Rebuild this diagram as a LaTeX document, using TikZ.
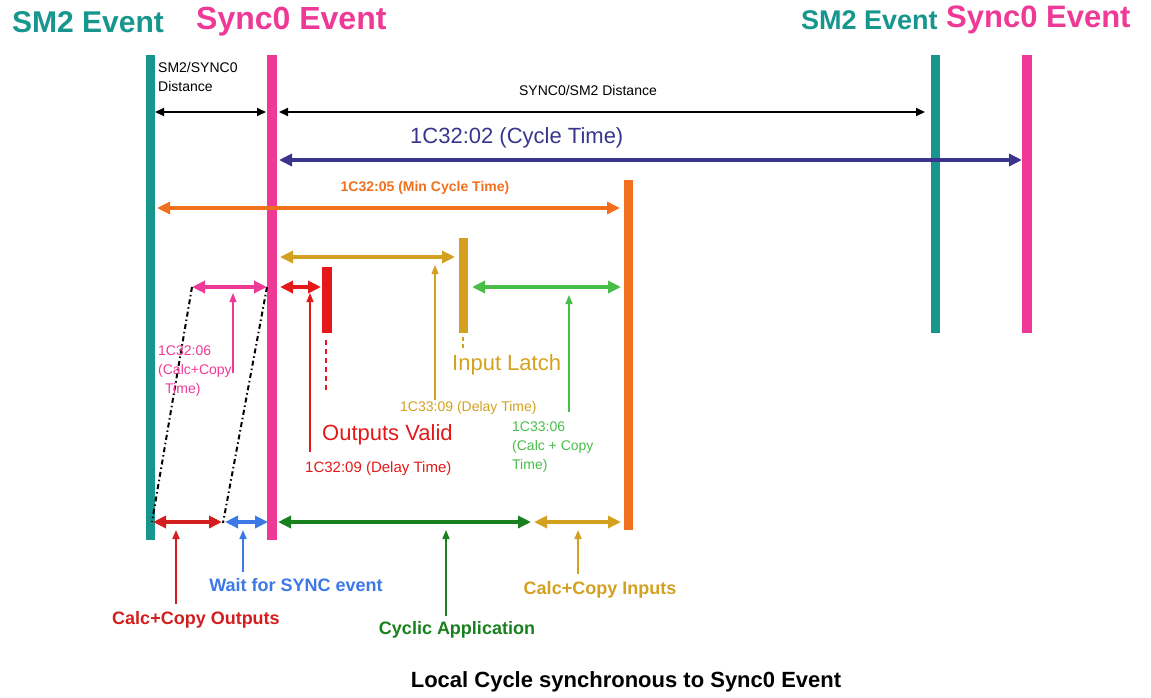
\documentclass[tikz,border=0pt]{standalone}
\usepackage{fontspec}
\setmainfont{Liberation Sans}
\usetikzlibrary{arrows.meta}
\definecolor{smteal}{RGB}{22,150,140}
\definecolor{syncpink}{RGB}{238,58,150}
\definecolor{cyclenavy}{RGB}{58,52,140}
\definecolor{minorange}{RGB}{240,112,30}
\definecolor{latchgold}{RGB}{212,160,32}
\definecolor{outred}{RGB}{228,24,24}
\definecolor{copyred}{RGB}{210,30,30}
\definecolor{copygreen}{RGB}{72,190,72}
\definecolor{appgreen}{RGB}{24,128,28}
\definecolor{waitblue}{RGB}{60,120,230}

\begin{document}
\begin{tikzpicture}[x=1pt, y=-1pt,
  ev/.style={font=\bfseries\fontsize{#1}{#1}\selectfont, inner sep=0pt, anchor=west},
  tiny/.style={font=\fontsize{14}{19}\selectfont, inner sep=0pt},
  mid/.style={font=\fontsize{22}{26}\selectfont, inner sep=0pt},
  bot/.style={font=\bfseries\fontsize{18}{22}\selectfont, inner sep=0pt},
  span/.style={{Triangle[length=13pt,width=12pt]}-{Triangle[length=13pt,width=12pt]}, line width=3.5pt},
  thinspan/.style={{Triangle[length=9pt,width=8pt]}-{Triangle[length=9pt,width=8pt]}, line width=1.8pt},
  pointer/.style={-{Triangle[length=9pt,width=7pt]}, line width=1.3pt},
  dashdot/.style={line width=2pt, dash pattern=on 5pt off 3pt on 1.5pt off 3pt}]
  \useasboundingbox (0,0) rectangle (1151,697);
  % event titles
  \node[ev=30, text=smteal] (smL) at (12,22) {SM2 Event};
  \node[ev=32, text=syncpink] (syncL) at (196,22) {Sync0 Event};
  \node[ev=27, text=smteal] (smR) at (801,20) {SM2 Event};
  \node[ev=31, text=syncpink] (syncR) at (946,20) {Sync0 Event};
  % event bars
  \draw[smteal, line width=9pt] (150,55) -- (150,540);
  \draw[syncpink, line width=10pt] (272,55) -- (272,540);
  \draw[smteal, line width=9pt] (935,55) -- (935,333);
  \draw[syncpink, line width=10pt] (1027,55) -- (1027,333);
  \draw[minorange, line width=9pt] (628,180) -- (628,530);
  \draw[latchgold, line width=9pt] (463,238) -- (463,333);
  \draw[outred, line width=10pt] (327,267) -- (327,333);
  % ends of the spans
  \coordinate (dA) at (155,112);  \coordinate (dB) at (266,112);
  \coordinate (dC) at (279,112);  \coordinate (dD) at (925,112);
  \coordinate (cA) at (279,160);  \coordinate (cB) at (1022,160);
  \coordinate (mA) at (157,208);  \coordinate (mB) at (620,208);
  \coordinate (gA) at (280,257);  \coordinate (gB) at (455,257);
  \coordinate (pA) at (192,287);  \coordinate (pB) at (267,287);
  \coordinate (rA) at (280,287);  \coordinate (rB) at (321,287);
  \coordinate (lA) at (472,287);  \coordinate (lB) at (621,287);
  \coordinate (b1) at (153,522);  \coordinate (b2) at (222,522);
  \coordinate (b3) at (225,522);  \coordinate (b4) at (268,522);
  \coordinate (b5) at (278,522);  \coordinate (b6) at (531,522);
  \coordinate (b7) at (534,522);  \coordinate (b8) at (621,522);
  % spans
  \draw[thinspan] (dA) -- (dB);
  \draw[thinspan] (dC) -- (dD);
  \draw[span, cyclenavy, line width=4pt] (cA) -- (cB);
  \draw[span, minorange, line width=4pt] (mA) -- (mB);
  \draw[span, latchgold] (gA) -- (gB);
  \draw[span, syncpink] (pA) -- (pB);
  \draw[span, outred] (rA) -- (rB);
  \draw[span, copygreen] (lA) -- (lB);
  \draw[span, copyred] (b1) -- (b2);
  \draw[span, waitblue] (b3) -- (b4);
  \draw[span, appgreen] (b5) -- (b6);
  \draw[span, latchgold] (b7) -- (b8);
  % shift of the calc+copy window
  \coordinate (sA) at (152,522);  \coordinate (sB) at (223,523);
  \draw[dashdot] (pA) -- (sA);
  \draw[dashdot] (pB) -- (sB);
  \draw[outred, line width=1.5pt, dash pattern=on 5pt off 4pt] (326,340) -- (326,393);
  \draw[latchgold, line width=2pt, dash pattern=on 4pt off 3pt] (463,337) -- (463,350);
  % labels
  \node[tiny, align=left, anchor=north west] (distL) at (158,62) {SM2/SYNC0\\Distance};
  \node[tiny] (distR) at (588,90) {SYNC0/SM2 Distance};
  \node[mid, text=cyclenavy, anchor=west] (cycle) at (410,138) {1C32:02 (Cycle Time)};
  \node[tiny, text=minorange, font=\bfseries\fontsize{14}{19}\selectfont] (mincycle) at (425,188) {1C32:05 (Min Cycle Time)};
  \node[tiny, text=syncpink, align=left, anchor=north west] (calcOut) at (158,346) {1C32:06\\(Calc+Copy\\\hspace{7pt}Time)};
  \node[mid, text=outred, anchor=west] (valid) at (322,435) {Outputs Valid};
  \node[tiny, text=outred, font=\fontsize{15}{19}\selectfont, anchor=west] (delayOut) at (305,469) {1C32:09 (Delay Time)};
  \node[mid, text=latchgold, anchor=west] (latch) at (452,365) {Input Latch};
  \node[tiny, text=latchgold, anchor=west] (delayIn) at (400,408) {1C33:09 (Delay Time)};
  \node[tiny, text=copygreen, align=left, anchor=north west] (calcIn) at (512,422) {1C33:06\\(Calc + Copy\\Time)};
  \node[bot, text=copyred] (copyOut) at (196,620) {Calc+Copy Outputs};
  \node[bot, text=waitblue] (wait) at (296,585) {Wait for SYNC event};
  \node[bot, text=appgreen] (app) at (457,630) {Cyclic Application};
  \node[bot, text=latchgold] (copyIn) at (600,590) {Calc+Copy Inputs};
  \node[font=\bfseries\fontsize{22}{26}\selectfont, inner sep=0pt] (title) at (626,682) {Local Cycle synchronous to Sync0 Event};
  % pointers
  \coordinate (q1) at (233,373);  \coordinate (t1) at (233,293);
  \coordinate (q2) at (310,452);  \coordinate (t2) at (310,293);
  \coordinate (q3) at (435,400);  \coordinate (t3) at (435,265);
  \coordinate (q4) at (569,412);  \coordinate (t4) at (569,295);
  \coordinate (q5) at (176,604);  \coordinate (t5) at (176,530);
  \coordinate (q6) at (243,572);  \coordinate (t6) at (243,530);
  \coordinate (q7) at (446,616);  \coordinate (t7) at (446,530);
  \coordinate (q8) at (578,574);  \coordinate (t8) at (578,530);
  \draw[pointer, syncpink] (q1) -- (t1);
  \draw[pointer, outred] (q2) -- (t2);
  \draw[pointer, latchgold] (q3) -- (t3);
  \draw[pointer, copygreen] (q4) -- (t4);
  \draw[pointer, copyred, line width=2pt] (q5) -- (t5);
  \draw[pointer, waitblue, line width=1.6pt] (q6) -- (t6);
  \draw[pointer, appgreen, line width=1.6pt] (q7) -- (t7);
  \draw[pointer, latchgold, line width=1.6pt] (q8) -- (t8);
\end{tikzpicture}
\end{document}
